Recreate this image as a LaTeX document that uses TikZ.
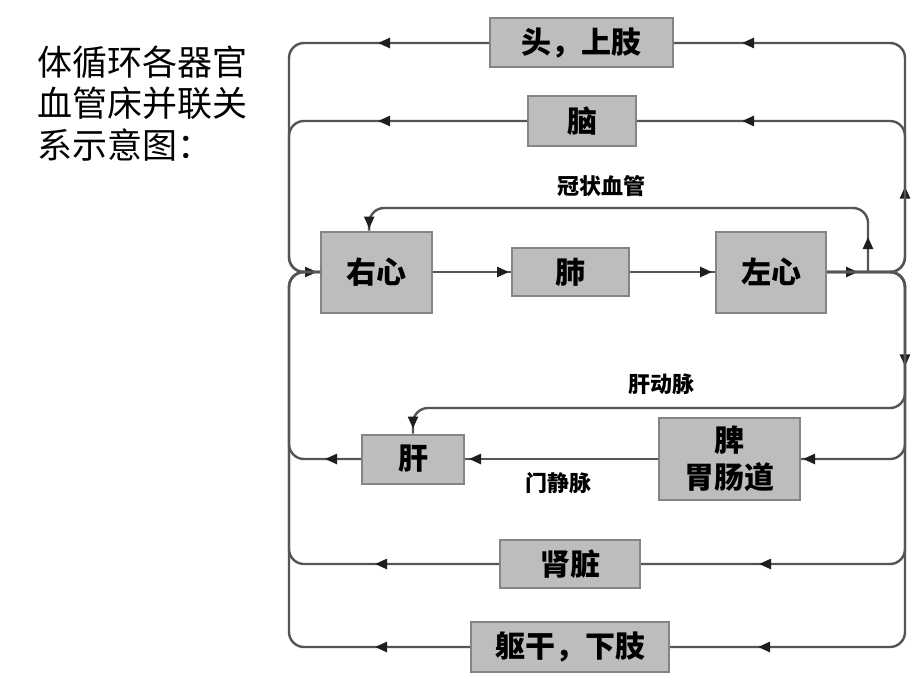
\documentclass[tikz,border=0pt]{standalone}
\usepackage{fontspec}
\newfontfamily\cjk{Noto Sans CJK SC}
\usetikzlibrary{arrows.meta,decorations.markings}
\definecolor{boxfill}{HTML}{BDBDBD}
\definecolor{boxline}{HTML}{858585}
\definecolor{wirecol}{HTML}{555555}
\definecolor{tipcol}{HTML}{1E1E1E}
\tikzset{
  tipA/.tip={Triangle[length=12pt,width=10pt,color=tipcol]},
  organ/.style={draw=boxline, fill=boxfill, line width=2pt, inner sep=0pt, align=center, text=black, font=\cjk\bfseries\fontsize{30}{37}\selectfont},
  link/.style={color=wirecol, line width=2.4pt, rounded corners=15pt},
  arrat/.style={postaction={decorate, decoration={markings, mark=at position #1 with {\arrow{tipA}}}}},
  lbl/.style={inner sep=0pt, text=black, font=\cjk\bfseries\fontsize{22}{26}\selectfont},
  ttl/.style={inner sep=0pt, anchor=base west, text=black, font=\cjk\fontsize{35}{40}\selectfont},
}
\begin{document}
\begin{tikzpicture}[x=1pt,y=-1pt]
\fill[white] (0,0) rectangle (920,690);
\useasboundingbox (0,0) rectangle (920,690);

% title
\node[ttl] (t1) at (37,76) {体循环各器官};
\node[ttl] (t2) at (37,117) {血管床并联关};
\node[ttl] (t3) at (37,158) {系示意图：};

% helper coordinates
\coordinate (J) at (868,272);
\coordinate (cy) at (0,208);
\coordinate (hy) at (0,408);

% organ boxes
\node[organ, minimum width=183pt, minimum height=49pt] (head) at (581.5,43) {头，上肢};
\node[organ, minimum width=108pt, minimum height=49pt] (brain) at (582,121) {脑};
\node[organ, minimum width=111pt, minimum height=81pt] (rh) at (376.5,272) {右心};
\node[organ, minimum width=117pt, minimum height=48pt] (lung) at (570.5,272) {肺};
\node[organ, minimum width=110pt, minimum height=81pt] (lh) at (771,272) {左心};
\node[organ, minimum width=102pt, minimum height=49pt] (liver) at (413,459) {肝};
\node[organ, minimum width=141pt, minimum height=82pt] (gut) at (729.5,459) {脾\\胃肠道};
\node[organ, minimum width=140pt, minimum height=48pt] (kidney) at (570,564) {肾脏};
\node[organ, minimum width=198pt, minimum height=50pt] (trunk) at (570,647) {躯干，下肢};

% labels
\node[lbl] (corlbl) at (601,186) {冠状血管};
\node[lbl] (heplbl) at (661,384) {肝动脉};
\node[lbl] (porlbl) at (558,483) {门静脉};

% venous return (left side)
\draw[link, arrat=111pt, arrat=-3pt] (head.west) -- (289,43) -- (289,272) -- (rh.west);
\draw[link, arrat=149pt] (brain.west) -- (289,121) -- (289,272) -- (rh.west);
\draw[link, arrat=36pt] (liver.west) -- (289,459) -- (289,272) -- (rh.west);
\draw[link, arrat=124pt] (kidney.west) -- (289,564) -- (289,272) -- (rh.west);
\draw[link, arrat=95pt] (trunk.west) -- (289,647) -- (289,272) -- (rh.west);

% arterial supply (right side)
\draw[link, arrat=31pt, arrat=157pt, arrat=-68pt] (lh.east) -- (905,272) -- (905,43) -- (head.east);
\draw[link, arrat=-105pt] (lh.east) -- (905,272) -- (905,121) -- (brain.east);
\draw[link, arrat=166pt, arrat=-88pt] (lh.east) -- (905,272) -- (905,647) -- (trunk.east);
\draw[link, arrat=-118pt] (lh.east) -- (905,272) -- (905,564) -- (kidney.east);
\draw[link, arrat=-2pt] (lh.east) -- (905,272) -- (905,459) -- (gut.east);
\draw[link, arrat=-5pt] (lh.east) -- (905,272) -- (905,408) -- (liver.north |- hy) -- (liver.north);

% coronary
\draw[link, arrat=35pt, arrat=-2pt] (J) -- (868,208) -- (rh.100 |- cy) -- (rh.100);

% pulmonary and portal
\draw[link, arrat=-2pt] (rh.east) -- (lung.west);
\draw[link, arrat=-3pt] (lung.east) -- (lh.west);
\draw[link, arrat=-4pt] (gut.west) -- (liver.east);
\end{tikzpicture}
\end{document}
